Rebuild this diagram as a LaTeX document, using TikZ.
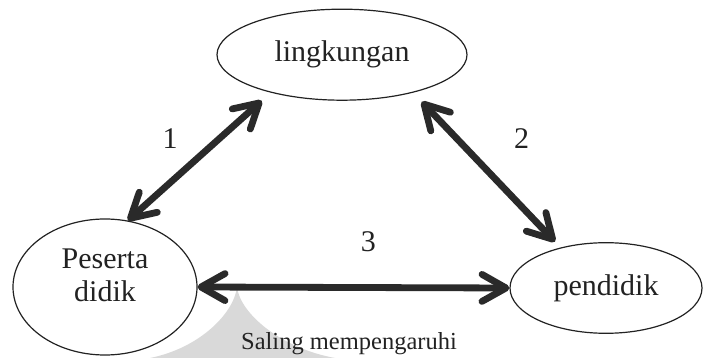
\documentclass[tikz,border=0pt]{standalone}
\usepackage{fontspec}
\setmainfont{Liberation Serif}
\usetikzlibrary{shapes.geometric,arrows.meta,calc}

\definecolor{ink}{HTML}{222222}
\definecolor{arrowink}{HTML}{2A2A2A}
\definecolor{wmgray}{HTML}{D9D9D9}

\tikzset{headbarb/.tip={Straight Barb[length=24pt,width=27pt,round]}}

\begin{document}
\begin{tikzpicture}[x=1pt,y=1pt,
  every node/.style={text=ink, inner sep=0pt},
  bubble/.style={ellipse, draw=ink, fill=white, line width=1.2pt},
  bigtext/.style={font=\fontsize{30pt}{33pt}\selectfont},
  smalltext/.style={font=\fontsize{24.5pt}{27pt}\selectfont},
  link/.style={draw=arrowink, line width=6.8pt, {headbarb}-{headbarb}}
]
\useasboundingbox (0,0) rectangle (704,358);

% light grey backdrop shape under the lower arrow
\fill[wmgray] (237,71) .. controls (234,45) and (200,10) .. (150,0)
  -- (335,0) .. controls (280,10) and (240,45) .. (237,71) -- cycle;

% the three parties
\node[bubble, minimum width=250pt, minimum height=91pt, bigtext] (ling) at (342,303.3) {lingkungan};
\node[bubble, minimum width=184pt, minimum height=136pt] (pd) at (105,71) {};
\node[bigtext, align=center] (pdtext) at (105,83) {Peserta\\didik};
\node[bubble, minimum width=192pt, minimum height=90.6pt, bigtext] (pdk) at (606,70) {pendidik};

% arrow ends that stand off the ellipse borders
\coordinate (a1top) at ($(ling.center)+(-80.3,-46)$);
\coordinate (a2top) at ($(ling.center)+(79.7,-47)$);
\coordinate (a2bot) at ($(pdk.center)+(-51,46.3)$);

% mutual influences
\draw[link] (pd.71) -- (a1top);
\draw[link] (a2top) -- (a2bot);
\draw[link] (pd.east) -- (pdk.west);

% numbering and caption
\node[bigtext] (n1) at (170,219.7) {1};
\node[bigtext] (n2) at (521.7,219.7) {2};
\node[bigtext] (n3) at (368.3,116.3) {3};
\node[smalltext, anchor=base] (cap) at (349,8) {Saling mempengaruhi};
\end{tikzpicture}
\end{document}
